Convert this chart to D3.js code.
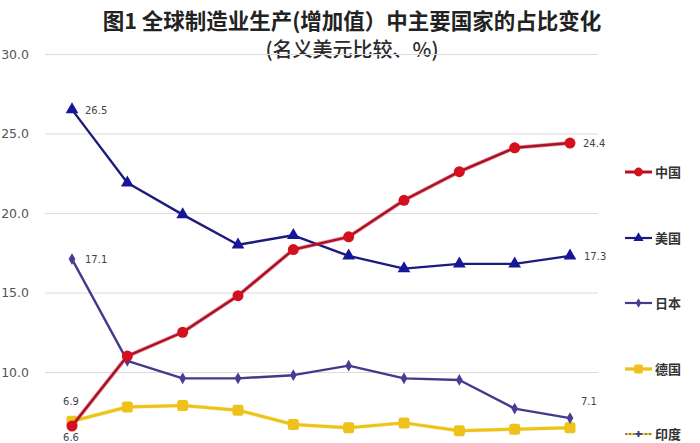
<!DOCTYPE html>
<html>
<head>
<meta charset="utf-8">
<script src="https://cdn.jsdelivr.net/npm/d3@7/dist/d3.min.js"></script>
<style>
  html, body { margin: 0; padding: 0; background: #ffffff; overflow: hidden; }
  svg { display: block; }
</style>
</head>
<body>
<svg id="chart" width="700" height="443"></svg>
<script>
// ---- data ----
const categories = ["2000", "2002", "2004", "2006", "2008", "2010", "2012", "2014", "2016", "2018"];
const chinaValues   = [6.6, 11.0, 12.5, 14.8, 17.7, 18.5, 20.8, 22.6, 24.1, 24.4];
const usValues      = [26.5, 21.9, 19.9, 18.0, 18.6, 17.3, 16.5, 16.8, 16.8, 17.3];
const japanValues   = [17.1, 10.7, 9.6, 9.6, 9.8, 10.4, 9.6, 9.5, 7.7, 7.1];
const germanyValues = [6.9, 7.8, 7.9, 7.6, 6.7, 6.5, 6.8, 6.3, 6.4, 6.5];
const indiaValues   = [1.2, 1.3, 1.4, 1.7, 2.0, 2.3, 2.5, 2.7, 2.9, 3.0];
const seriesNames   = ["中国", "美国", "日本", "德国", "印度"];
const yTicks        = [10, 15, 20, 25, 30];
const titleLines    = ["图1  全球制造业生产(增加值）中主要国家的占比变化", "(名义美元比较、%)"];

const series = [
  { name: seriesNames[0], values: chinaValues,   line: "#a5122a", fill: "#d4101e", glow: "#e23a3a", shape: "circle" },
  { name: seriesNames[1], values: usValues,      line: "#1c1c7e", fill: "#16169a", glow: null,      shape: "triangle" },
  { name: seriesNames[2], values: japanValues,   line: "#46398a", fill: "#4a3c92", glow: null,      shape: "diamond" },
  { name: seriesNames[3], values: germanyValues, line: "#ecc318", fill: "#eec21a", glow: "#f6df70", shape: "square" },
  { name: seriesNames[4], values: indiaValues,   line: "#e8c93a", fill: "#3a3a80", glow: null,      shape: "cross" }
];

// ---- layout ----
const svg = d3.select("#chart");
const x = d3.scalePoint().domain(categories).range([72, 570]);
const y = d3.scaleLinear().domain([0, 30]).range([531, 54]);

// title
svg.append("text").attr("x", 352).attr("y", 29).attr("text-anchor", "middle")
  .attr("font-family", "'Noto Sans CJK SC', sans-serif").attr("font-weight", 700)
  .attr("font-size", 21.5).attr("fill", "#222").text(titleLines[0]);
svg.append("text").attr("x", 352).attr("y", 57).attr("text-anchor", "middle")
  .attr("font-family", "'Noto Sans CJK SC', sans-serif").attr("font-weight", 500)
  .attr("font-size", 20).attr("fill", "#2a2a2a").text(titleLines[1]);

// grid + y axis
const yAxis = d3.axisLeft(y).tickValues(yTicks).tickFormat(d3.format(".1f"))
  .tickSize(-(598 - 45)).tickPadding(16);
const gy = svg.append("g").attr("transform", "translate(45,0)").call(yAxis);
gy.select(".domain").remove();
gy.selectAll(".tick line").attr("stroke", "#dcdcdc").attr("stroke-width", 1.2);
gy.selectAll(".tick text").attr("font-family", "'DejaVu Sans', sans-serif")
  .attr("font-size", 12.5).attr("fill", "#555");

const line = d3.line().x((d, i) => x(categories[i])).y(d => y(d));

function drawMarker(g, shape, cx, cy, fill, scale) {
  const s = scale || 1;
  if (shape === "circle") {
    g.append("circle").attr("cx", cx).attr("cy", cy).attr("r", 5.5 * s).attr("fill", fill);
  } else if (shape === "triangle") {
    g.append("path").attr("d", d3.symbol(d3.symbolTriangle, 70 * s * s)())
      .attr("transform", `translate(${cx},${cy})`).attr("fill", fill);
  } else if (shape === "diamond") {
    g.append("path").attr("d", d3.symbol(d3.symbolDiamond, 40 * s * s)())
      .attr("transform", `translate(${cx},${cy})`).attr("fill", fill);
  } else if (shape === "square") {
    const w = 11 * s;
    g.append("rect").attr("x", cx - w / 2).attr("y", cy - w / 2).attr("width", w).attr("height", w)
      .attr("rx", 2.5 * s).attr("fill", fill);
  } else if (shape === "cross") {
    g.append("path").attr("d", d3.symbol(d3.symbolCross, 30 * s * s)())
      .attr("transform", `translate(${cx},${cy})`).attr("fill", fill);
  }
}

// draw in order: india, germany, japan, us, china (china on top)
const drawOrder = [4, 3, 2, 1, 0];
drawOrder.forEach(k => {
  const s = series[k];
  const g = svg.append("g");
  if (s.glow) {
    g.append("path").datum(s.values).attr("d", line).attr("fill", "none")
      .attr("stroke", s.glow).attr("stroke-width", 4).attr("stroke-opacity", 0.55)
      .attr("stroke-linejoin", "round");
  }
  g.append("path").datum(s.values).attr("d", line).attr("fill", "none")
    .attr("stroke", s.line).attr("stroke-width", k === 3 ? 3 : 2.4)
    .attr("stroke-linejoin", "round");
  s.values.forEach((v, i) => drawMarker(g, s.shape, x(categories[i]), y(v), s.fill));
});

// data labels
const labelFont = "'DejaVu Sans', sans-serif";
function label(txt, lx, ly, anchor) {
  svg.append("text").attr("x", lx).attr("y", ly).attr("text-anchor", anchor || "start")
    .attr("font-family", labelFont).attr("font-size", 10).attr("fill", "#444").text(txt);
}
const last = categories.length - 1;
const f1 = d3.format(".1f");
label(f1(usValues[0]), x(categories[0]) + 13, y(usValues[0]) + 4);
label(f1(japanValues[0]), x(categories[0]) + 13, y(japanValues[0]) + 4);
label(f1(germanyValues[0]), x(categories[0]) - 1, y(germanyValues[0]) - 16, "middle");
label(f1(chinaValues[0]), x(categories[0]) - 1, y(chinaValues[0]) + 15, "middle");
label(f1(chinaValues[last]), x(categories[last]) + 13, y(chinaValues[last]) + 4);
label(f1(usValues[last]), x(categories[last]) + 14, y(usValues[last]) + 4);
label(f1(japanValues[last]), x(categories[last]) + 11, y(japanValues[last]) - 13);

// legend
const legendY = [172, 238, 303, 369, 434];
series.forEach((s, k) => {
  const g = svg.append("g");
  const ly = legendY[k];
  if (s.glow) {
    g.append("line").attr("x1", 625).attr("x2", 652).attr("y1", ly).attr("y2", ly)
      .attr("stroke", s.glow).attr("stroke-width", 4).attr("stroke-opacity", 0.55);
  }
  g.append("line").attr("x1", 625).attr("x2", 652).attr("y1", ly).attr("y2", ly)
    .attr("stroke", s.line).attr("stroke-width", k === 3 ? 3 : 2.2);
  if (k === 4) {
    g.append("line").attr("x1", 625).attr("x2", 652).attr("y1", ly).attr("y2", ly)
      .attr("stroke", "#3a3a80").attr("stroke-width", 1).attr("stroke-dasharray", "2,2");
  }
  drawMarker(g, s.shape, 638.5, ly, s.fill, 0.8);
  g.append("text").attr("x", 655).attr("y", ly + 5)
    .attr("font-family", "'Noto Sans CJK SC', sans-serif").attr("font-weight", 700)
    .attr("font-size", 13).attr("fill", "#333").text(s.name);
});
</script>
</body>
</html>
